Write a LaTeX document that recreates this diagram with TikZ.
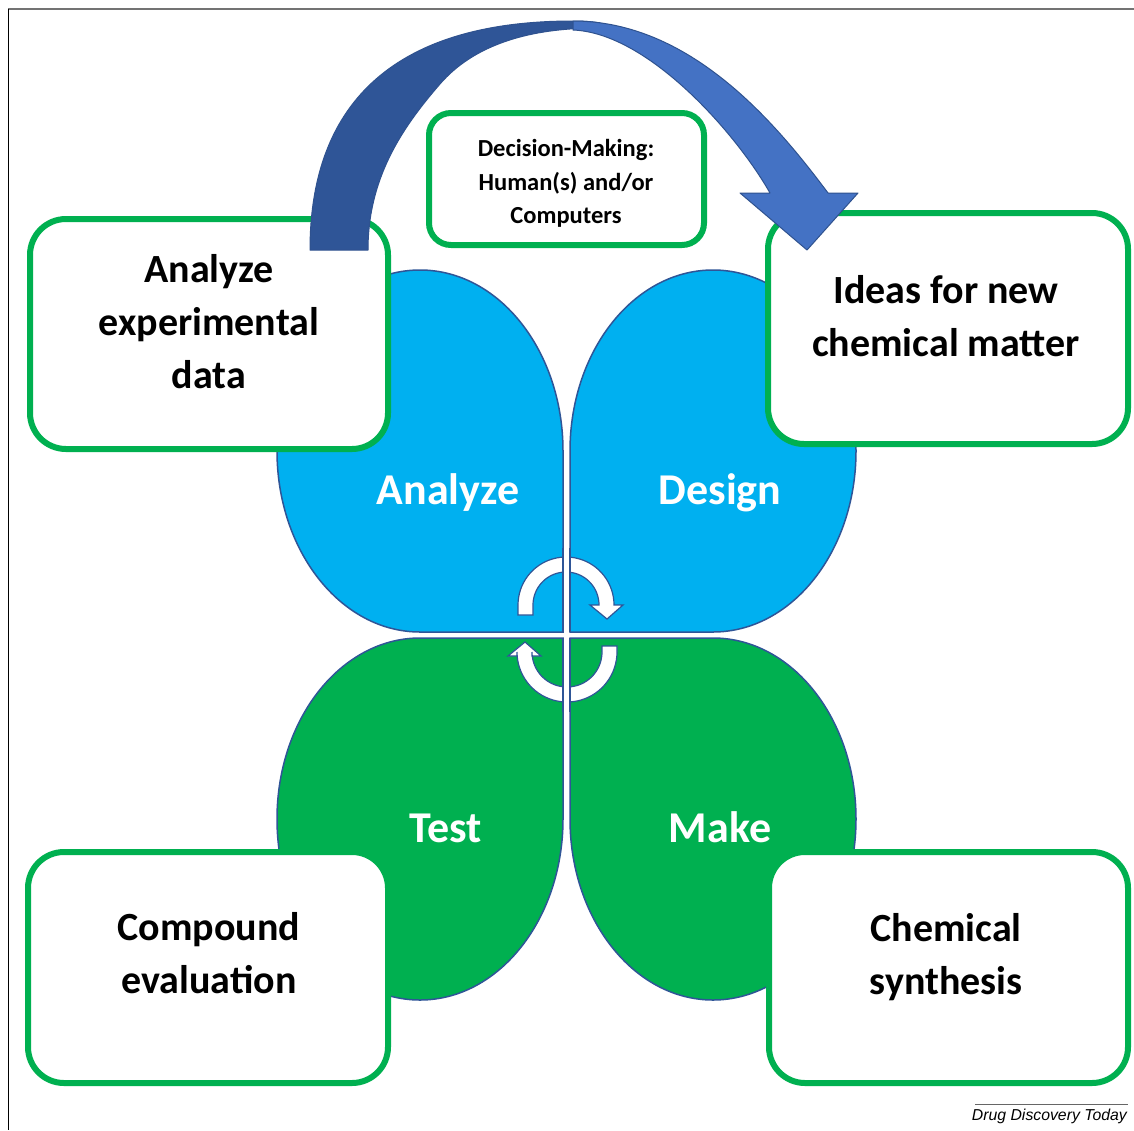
\documentclass[tikz,border=0pt]{standalone}
\usepackage{fontspec}
\setmainfont{Carlito}
\newfontfamily\capfont{Liberation Sans}
\definecolor{pblue}{HTML}{00B0F0}
\definecolor{pgreen}{HTML}{00B050}
\definecolor{edge}{HTML}{2F5597}
\definecolor{arrdark}{HTML}{2F5597}
\definecolor{arrlight}{HTML}{4472C4}
\definecolor{arredge}{HTML}{2F528F}
\begin{document}
\begin{tikzpicture}[x=1pt,y=-1pt,
  petal/.style={draw=edge, line width=1.5pt},
  box/.style={draw=pgreen, line width=6pt, fill=white, rounded corners=36pt, inner sep=0pt},
  boxtext/.style={font=\fontsize{40}{53}\selectfont\bfseries, align=center, text=black, inner sep=0pt},
  petaltext/.style={font=\fontsize{44}{50}\selectfont\bfseries, text=white, anchor=base, inner sep=0pt},
  cyc/.style={fill=white, draw=edge, line width=1.2pt, line join=miter},
  bigarrow/.style={draw=arredge, line width=1pt, line join=round},
]
\useasboundingbox (0,0) rectangle (1134,1130);
\fill[white] (0,0) rectangle (1134,1130);
% frame
\draw[line width=2pt, color=black!55] (8,9) -- (1134,9);
\draw[line width=1pt, color=black] (8.5,9) -- (8.5,1130);

% petals
\filldraw[petal, fill=pblue] (563,632) -- (420,632) .. controls (341,632) and (277,551) .. (277,451) .. controls (277,351) and (341,270) .. (420,270) .. controls (499,270) and (563,351) .. (563,451) -- cycle;
\filldraw[petal, fill=pblue] (570,632) -- (713,632) .. controls (792,632) and (856,551) .. (856,451) .. controls (856,351) and (792,270) .. (713,270) .. controls (634,270) and (570,351) .. (570,451) -- cycle;
\filldraw[petal, fill=pgreen] (563,638) -- (563,819) .. controls (563,919) and (499,1000) .. (420,1000) .. controls (341,1000) and (277,919) .. (277,819) .. controls (277,719) and (341,638) .. (420,638) -- cycle;
\filldraw[petal, fill=pgreen] (570,638) -- (713,638) .. controls (792,638) and (856,719) .. (856,819) .. controls (856,919) and (792,1000) .. (713,1000) .. controls (634,1000) and (570,919) .. (570,819) -- cycle;

\node[petaltext] (lanalyze) at (448,504) {Analyze};
\node[petaltext] (ldesign) at (720,504) {Design};
\node[petaltext] (ltest) at (446,842) {Test};
\node[petaltext] (lmake) at (720,842) {Make};

% cycle arrows
\filldraw[cyc] (518,615) -- (518,605) -- plot[domain=180:360, samples=40] ({566+48*cos(\x)}, {605+48*sin(\x)}) -- (623,605) -- (607,619) -- (590,605) -- (599,605) -- plot[domain=360:180, samples=40] ({566+33*cos(\x)}, {605+33*sin(\x)}) -- (533,615) -- cycle;
\filldraw[cyc] (617,646) -- (617,652) -- plot[domain=0:180, samples=40] ({567+50*cos(\x)}, {652+50*sin(\x)}) -- (517,656) -- (508,656) -- (525,642) -- (541,656) -- (532,656) -- plot[domain=180:0, samples=40] ({567+35*cos(\x)}, {652+35*sin(\x)}) -- (602,646) -- cycle;
% centre gap over the arrows
\fill[white] (563,548) rectangle (570,632);
\fill[white] (563,638) rectangle (570,712);
\draw[edge, line width=1.5pt] (563,548) -- (563,632) (570,548) -- (570,632) (563,638) -- (563,712) (570,638) -- (570,712);

% boxes
\node[box, minimum width=358pt, minimum height=230pt] (boxA) at (209,334) {};
\node[box, minimum width=360pt, minimum height=231pt] (boxB) at (948,328.5) {};
\node[box, minimum width=360pt, minimum height=231pt] (boxC) at (208,967.5) {};
\node[box, minimum width=359pt, minimum height=231pt] (boxD) at (948.5,967.5) {};
\node[box, rounded corners=22pt, minimum width=275pt, minimum height=132pt] (boxE) at (566.5,179) {};

\node[boxtext] (tA) at (209,322) {Analyze\\experimental\\data};
\node[boxtext] (tB) at (946,316) {Ideas for new\\chemical matter};
\node[boxtext] (tC) at (209,953.5) {Compound\\evaluation};
\node[boxtext] (tD) at (946,957.5) {Chemical\\synthesis};
\node[boxtext, font=\fontsize{24.5}{33.5}\selectfont\bfseries] (tE) at (566,183.5) {Decision-Making:\\Human(s) and/or\\Computers};

% big curved arrow
\filldraw[bigarrow, fill=arrdark] (310,250) .. controls (310,99) and (399,21) .. (573,21)
  .. controls (583,21) and (592,21.5) .. (600,23) -- (600,28)
  .. controls (560,28) and (485,32) .. (440,84)
  .. controls (400,130) and (368,180) .. (368,250) -- cycle;
\filldraw[bigarrow, fill=arrlight] (573,21) .. controls (690,21) and (775,122) .. (828,193)
  -- (858,193) -- (807,250) -- (740,193) -- (770,193)
  .. controls (736,133) and (648,33) .. (573,30) -- cycle;

% caption
\coordinate (capl) at (975,1104);
\coordinate (capr) at (1128,1104);
\draw[line width=0.8pt, color=black!60] (capl) -- (capr);
\node[font={\capfont\fontsize{15.8}{18}\selectfont\itshape}, anchor=base east, inner sep=0pt] (cap) at (1127,1120) {Drug Discovery Today};
\end{tikzpicture}
\end{document}
